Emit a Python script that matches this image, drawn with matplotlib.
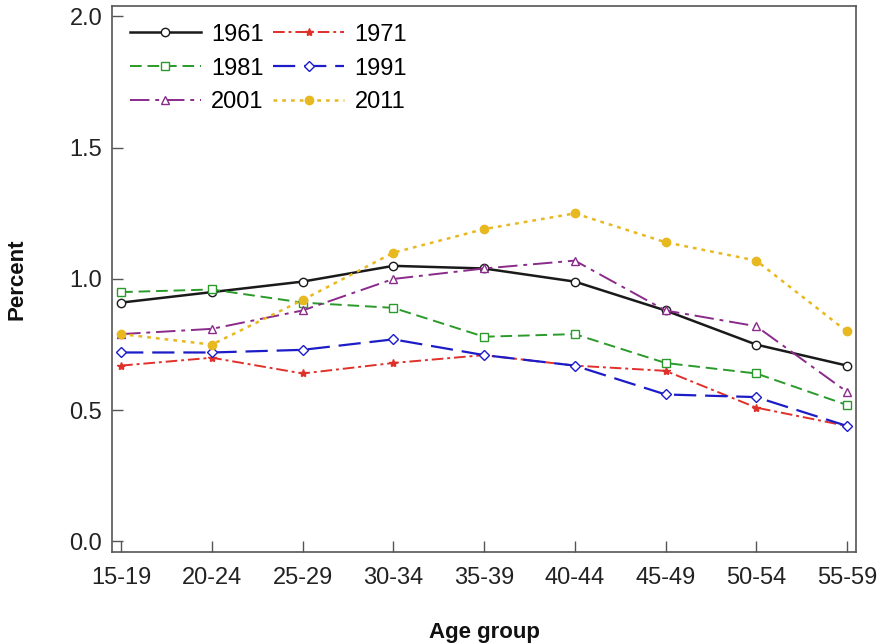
import matplotlib
matplotlib.use("Agg")
import matplotlib.pyplot as plt

plt.rcParams['font.family'] = ['Liberation Sans', 'DejaVu Sans']

age_groups = ["15-19", "20-24", "25-29", "30-34", "35-39", "40-44", "45-49", "50-54", "55-59"]
years = ["1961", "1971", "1981", "1991", "2001", "2011"]

pct_1961 = [0.91, 0.95, 0.99, 1.05, 1.04, 0.99, 0.88, 0.75, 0.67]
pct_1971 = [0.67, 0.70, 0.64, 0.68, 0.71, 0.67, 0.65, 0.51, 0.44]
pct_1981 = [0.95, 0.96, 0.91, 0.89, 0.78, 0.79, 0.68, 0.64, 0.52]
pct_1991 = [0.72, 0.72, 0.73, 0.77, 0.71, 0.67, 0.56, 0.55, 0.44]
pct_2001 = [0.79, 0.81, 0.88, 1.00, 1.04, 1.07, 0.88, 0.82, 0.57]
pct_2011 = [0.79, 0.75, 0.92, 1.10, 1.19, 1.25, 1.14, 1.07, 0.80]

series = [pct_1961, pct_1971, pct_1981, pct_1991, pct_2001, pct_2011]

# style per year: colour, linestyle, marker, filled marker?, linewidth
styles = [
    ("#1a1a1a", "-", "o", False, 1.8),
    ("#e0302a", (0, (6, 2, 1.5, 2)), "*", True, 1.4),
    ("#2a9a2a", (0, (6, 3)), "s", False, 1.4),
    ("#1c1cc8", (0, (10, 4)), "D", False, 1.6),
    ("#8a2a8a", (0, (10, 3, 2, 3)), "^", False, 1.4),
    ("#e8b820", (0, (1.5, 2)), "o", True, 1.8),
]

fig = plt.figure(figsize=(8.78, 6.44), dpi=100)
ax = fig.add_axes([0.1276, 0.1429, 0.8474, 0.8478])

x = list(range(len(age_groups)))
lines = []
for yr, vals, (col, ls, mk, filled, lw) in zip(years, series, styles):
    ln, = ax.plot(x, vals, color=col, linestyle=ls, linewidth=lw, marker=mk,
                  markersize=6 if mk != "D" else 5,
                  markerfacecolor=col if filled else "white",
                  markeredgecolor=col, markeredgewidth=1.0, label=yr)
    lines.append(ln)

ax.set_xlim(-0.1, 8.1)
ax.set_ylim(-0.04, 2.04)
ax.set_xticks(x)
ax.set_xticklabels(age_groups)
ax.set_yticks([0.0, 0.5, 1.0, 1.5, 2.0])
ax.set_yticklabels(["0.0", "0.5", "1.0", "1.5", "2.0"])
ax.tick_params(direction="in", length=8, width=1, labelsize=17, colors="#555555",
               labelcolor="#222222", top=False, right=False)
ax.tick_params(axis="x", pad=11)
ax.tick_params(axis="y", pad=7)
for s in ax.spines.values():
    s.set_color("#555555")
    s.set_linewidth(1.2)

ax.set_xlabel("Age group", fontsize=16, fontweight="bold", color="#111111")
ax.set_ylabel("Percent", fontsize=16, fontweight="bold", color="#111111")
ax.xaxis.set_label_coords(0.5, -0.128)
ax.yaxis.set_label_coords(-0.114, 0.5)

# row-wise legend order: 1961 1971 / 1981 1991 / 2001 2011
order = [0, 2, 4, 1, 3, 5]
ax.legend([lines[i] for i in order], [years[i] for i in order],
          loc="upper left", ncol=2, frameon=False, fontsize=17,
          handlelength=3.0, columnspacing=0.4, handletextpad=0.45,
          labelspacing=0.5, borderaxespad=0.2, borderpad=0.55)

fig.savefig("out.png", dpi=100)
